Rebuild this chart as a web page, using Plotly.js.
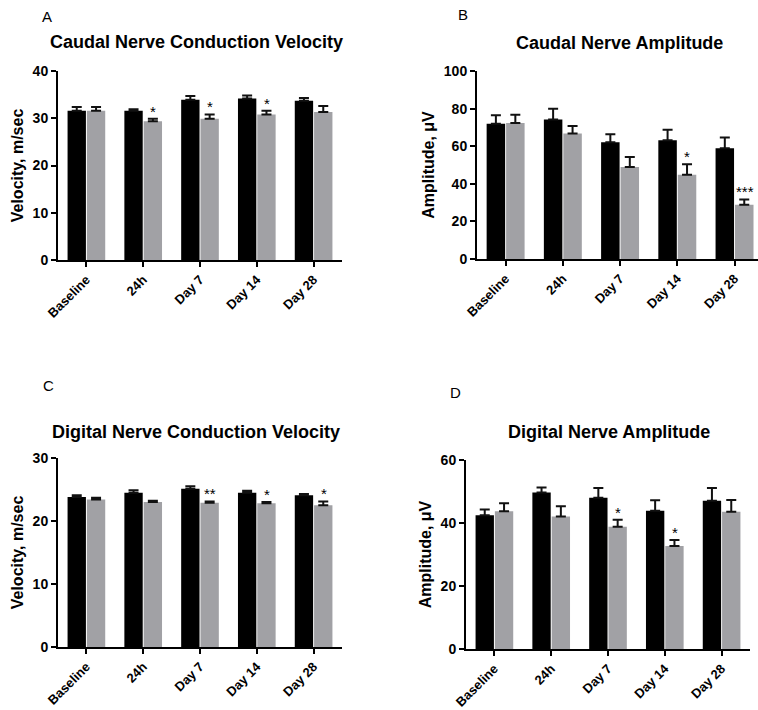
<!DOCTYPE html>
<html>
<head>
<meta charset="utf-8">
<script src="https://cdn.plot.ly/plotly-3.0.1.min.js"></script>
<style>html,body{margin:0;padding:0;background:#fff;}#chart{width:758px;height:710px;}</style>
</head>
<body>
<div id="chart"></div>
<script>
// ---- data ----
var categories = ['Baseline', '24h', 'Day 7', 'Day 14', 'Day 28'];

var caudalVelCtrl = [31.6, 31.6, 33.9, 34.2, 33.7];
var caudalVelCtrlErr = [0.8, 0.3, 0.8, 0.6, 0.6];
var caudalVelTrt = [31.6, 29.35, 29.9, 30.8, 31.3];
var caudalVelTrtErr = [0.8, 0.55, 0.9, 0.8, 1.3];
var caudalVelStars = ['', '*', '*', '*', ''];

var caudalAmpCtrl = [72.0, 74.2, 62.1, 63.1, 58.9];
var caudalAmpCtrlErr = [4.5, 5.7, 4.2, 5.7, 5.7];
var caudalAmpTrt = [72.3, 66.8, 49.0, 44.8, 28.9];
var caudalAmpTrtErr = [4.4, 3.9, 5.3, 5.6, 2.8];
var caudalAmpStars = ['', '', '', '*', '***'];

var digitalVelCtrl = [23.8, 24.5, 25.1, 24.5, 24.1];
var digitalVelCtrlErr = [0.3, 0.4, 0.4, 0.3, 0.2];
var digitalVelTrt = [23.4, 23.0, 22.9, 22.8, 22.5];
var digitalVelTrtErr = [0.3, 0.2, 0.2, 0.2, 0.6];
var digitalVelStars = ['', '', '**', '*', '*'];

var digitalAmpCtrl = [42.5, 49.7, 48.0, 43.9, 47.1];
var digitalAmpCtrlErr = [1.8, 1.6, 3.1, 3.3, 4.0];
var digitalAmpTrt = [43.7, 42.1, 38.8, 32.7, 43.6];
var digitalAmpTrtErr = [2.6, 3.2, 2.2, 1.9, 3.7];
var digitalAmpStars = ['', '', '*', '*', ''];

var panelLetters = ['A', 'B', 'C', 'D'];
var panelTitles = ['Caudal Nerve Conduction Velocity', 'Caudal Nerve Amplitude',
                   'Digital Nerve Conduction Velocity', 'Digital Nerve Amplitude'];
var yTitles = ['Velocity, m/sec', 'Amplitude, \u03bcV', 'Velocity, m/sec', 'Amplitude, \u03bcV'];
var yMax = [40, 100, 30, 60];
var yDtick = [10, 20, 10, 20];

// ---- styling ----
var FONT = '"Liberation Sans", Arial, Helvetica, sans-serif';
var BLACK = '#000000';
var GREY = '#a1a1a5';
var W = 758, H = 710;

var panels = [
  {ctrl: caudalVelCtrl, ce: caudalVelCtrlErr, trt: caudalVelTrt, te: caudalVelTrtErr, stars: caudalVelStars,
   xd: [58, 342], yd: [71, 260], xr: [-0.5, 4.5], letter: [47, 17], title: [196, 42]},
  {ctrl: caudalAmpCtrl, ce: caudalAmpCtrlErr, trt: caudalAmpTrt, te: caudalAmpTrtErr, stars: caudalAmpStars,
   xd: [477, 758], yd: [71, 259], xr: [-0.5, 4.41], letter: [463, 15], title: [619, 43]},
  {ctrl: digitalVelCtrl, ce: digitalVelCtrlErr, trt: digitalVelTrt, te: digitalVelTrtErr, stars: digitalVelStars,
   xd: [58, 342], yd: [458, 647], xr: [-0.5, 4.5], letter: [48, 385], title: [196, 432]},
  {ctrl: digitalAmpCtrl, ce: digitalAmpCtrlErr, trt: digitalAmpTrt, te: digitalAmpTrtErr, stars: digitalAmpStars,
   xd: [466, 750], yd: [460, 649], xr: [-0.5, 4.5], letter: [455, 392], title: [609, 432]}
];

var traces = [];
var layout = {
  width: W, height: H,
  margin: {l: 0, r: 0, t: 0, b: 0},
  paper_bgcolor: '#ffffff', plot_bgcolor: 'rgba(0,0,0,0)',
  showlegend: false,
  barmode: 'group',
  bargap: 0.32,
  bargroupgap: 0.05,
  font: {family: FONT, color: '#000000'},
  annotations: []
};

panels.forEach(function (p, i) {
  var n = i === 0 ? '' : String(i + 1);
  var xa = 'x' + n, ya = 'y' + n;
  var zeros = p.ctrl.map(function () { return 0; });
  traces.push({
    type: 'bar', x: categories, y: p.ctrl, xaxis: xa, yaxis: ya,
    marker: {color: BLACK, line: {width: 0}},
    error_y: {type: 'data', symmetric: false, array: p.ce, arrayminus: zeros,
              color: '#111111', thickness: 2, width: 5},
    hoverinfo: 'skip'
  });
  traces.push({
    type: 'bar', x: categories, y: p.trt, xaxis: xa, yaxis: ya,
    marker: {color: GREY, line: {width: 0}},
    error_y: {type: 'data', symmetric: false, array: p.te, arrayminus: zeros,
              color: '#111111', thickness: 2, width: 5},
    hoverinfo: 'skip'
  });

  layout['xaxis' + n] = {
    domain: [p.xd[0] / W, p.xd[1] / W],
    anchor: ya,
    type: 'category',
    range: p.xr,
    showline: true, linecolor: '#000000', linewidth: 2,
    ticks: 'outside', ticklen: 5, tickwidth: 2, tickcolor: '#000000',
    tickangle: -45,
    tickfont: {family: FONT, size: 13, color: '#000000', weight: 'bold'},
    showgrid: false, zeroline: false, fixedrange: true
  };
  layout['yaxis' + n] = {
    domain: [1 - p.yd[1] / H, 1 - p.yd[0] / H],
    anchor: xa,
    range: [0, yMax[i]],
    dtick: yDtick[i], tick0: 0,
    showline: true, linecolor: '#000000', linewidth: 2,
    ticks: 'outside', ticklen: 5, tickwidth: 2, tickcolor: '#000000',
    tickfont: {family: FONT, size: 14, color: '#000000', weight: 'bold'},
    title: {text: yTitles[i], standoff: 5,
            font: {family: FONT, size: 16, color: '#000000', weight: 'bold'}},
    showgrid: false, zeroline: false, fixedrange: true
  };

  // panel letter
  layout.annotations.push({
    xref: 'paper', yref: 'paper', x: p.letter[0] / W, y: 1 - p.letter[1] / H,
    xanchor: 'center', yanchor: 'middle', showarrow: false,
    text: panelLetters[i], font: {family: FONT, size: 15, color: '#000000'}
  });
  // panel title
  layout.annotations.push({
    xref: 'paper', yref: 'paper', x: p.title[0] / W, y: 1 - p.title[1] / H,
    xanchor: 'center', yanchor: 'middle', showarrow: false,
    text: '<b>' + panelTitles[i] + '</b>', font: {family: FONT, size: 18, color: '#000000'}
  });
  // significance stars over treated bars
  p.stars.forEach(function (s, k) {
    if (!s) return;
    layout.annotations.push({
      xref: xa, yref: ya, x: categories[k], y: p.trt[k] + p.te[k],
      xshift: 10, yshift: -3,
      xanchor: 'center', yanchor: 'bottom', showarrow: false,
      text: s, font: {family: FONT, size: 15, color: '#000000'}
    });
  });
});

Plotly.newPlot('chart', traces, layout, {staticPlot: true, displayModeBar: false});
</script>
</body>
</html>
